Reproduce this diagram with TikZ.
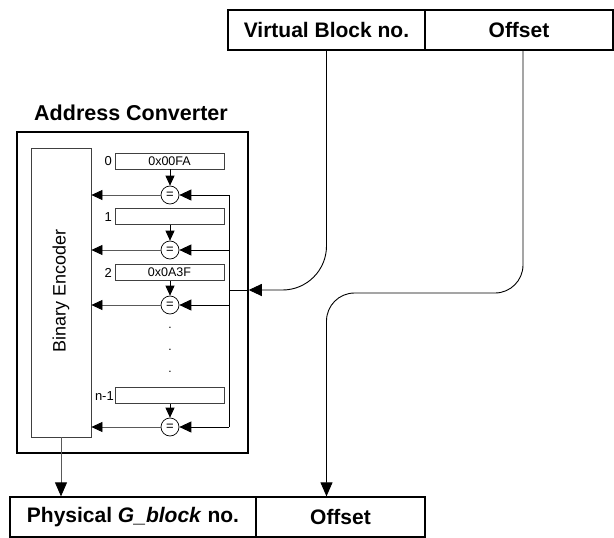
\documentclass[tikz,border=0pt]{standalone}
\usepackage{fontspec}
\setmainfont{Liberation Sans}
\usetikzlibrary{arrows.meta,calc}
\begin{document}
\begin{tikzpicture}[x=1pt,y=-1pt,
  bigbox/.style={draw=black,line width=1.3pt,minimum height=40pt,inner sep=0pt,font=\fontsize{21}{21}\selectfont\bfseries},
  reg/.style={draw=black!75,line width=0.7pt,minimum width=109pt,minimum height=16pt,inner sep=0pt,font=\fontsize{12.5}{12.5}\selectfont},
  idx/.style={font=\fontsize{13}{13}\selectfont,inner sep=0pt,anchor=east},
  cmp/.style={draw=black,line width=0.7pt,circle,minimum size=18pt,inner sep=0pt,font=\fontsize{13}{13}\selectfont},
  dotn/.style={font=\fontsize{12}{12}\selectfont,inner sep=0pt},
  arr/.style={-{Triangle[length=13pt,width=12pt]}},
  garr/.style={draw=black!65,line width=0.8pt,-{Triangle[length=11pt,width=10pt,color=black]}},
  bus/.style={draw=black,line width=0.9pt}
]
\useasboundingbox (0,0) rectangle (614,538);
% top boxes
\node[bigbox,minimum width=197pt] (vb) at (326.5,30) {Virtual Block no.};
\node[bigbox,minimum width=188pt] (off1) at (519,30) {Offset};
% address converter
\node[font=\fontsize{21.5}{21.5}\selectfont\bfseries,inner sep=0pt] (title) at (131,113) {Address Converter};
\node[draw=black,line width=1.5pt,minimum width=231pt,minimum height=321pt,inner sep=0pt] (outer) at (132.5,292.5) {};
\node[draw=black!75,line width=0.8pt,minimum width=60pt,minimum height=289pt,inner sep=0pt] (enc) at (61,292.5) {};
\node[rotate=90,font=\fontsize{18}{18}\selectfont,inner sep=0pt] (enclabel) at (61,291) {Binary Encoder};
% registers
\node[reg] (r0) at (169.5,161) {0x00FA};
\node[reg] (r1) at (169.5,216.5) {};
\node[reg] (r2) at (169.5,272.5) {0x0A3F};
\node[reg] (r3) at (169.5,395.5) {};
\node[idx] (l0) at (112,161.5) {0};
\node[idx] (l1) at (112,217) {1};
\node[idx] (l2) at (112,273) {2};
\node[idx] (l3) at (114,396) {n-1};
% comparators
\node[cmp] (c0) at (170,195) {=};
\node[cmp] (c1) at (170,250) {=};
\node[cmp] (c2) at (170,305) {=};
\node[cmp] (c3) at (170,427) {=};
\node[dotn] (d1) at (170,328) {.};
\node[dotn] (d2) at (170,350) {.};
\node[dotn] (d3) at (170,372) {.};
% bottom boxes
\node[bigbox,minimum width=246pt] (pb) at (133,517) {Physical \textit{G\_block} no.};
\node[bigbox,minimum width=169pt] (off2) at (340.5,517) {Offset};
% bus
\coordinate (busin) at (229,290);
\draw[bus] (c0 -| busin) -- (c3 -| busin);
\draw[bus] (busin) -- (outer.east |- busin);
\foreach \i in {0,1,2,3}{
  \draw[bus,-{Triangle[length=12pt,width=11pt]}] (c\i -| busin) -- (c\i.east);
  \draw[line width=0.8pt,-{Triangle[length=10pt,width=9pt]}] (r\i.south -| c\i) -- (c\i.north);
  \draw[garr] (c\i.west) -- (enc.east |- c\i);
}
% encoder to output
\draw[garr,-{Triangle[length=14pt,width=12pt,color=black]}] (enc.south) -- (enc.south |- pb.north);
% virtual block to converter
\draw[bus,arr,rounded corners=44pt] (vb.south) |- (outer.east |- busin);
% offset to offset
\draw[bus,-{Triangle[length=14pt,width=12pt]},rounded corners=28pt] ([xshift=4pt]off1.south) |- (420,293) -| (off2.north -| vb.south);
\end{tikzpicture}
\end{document}
